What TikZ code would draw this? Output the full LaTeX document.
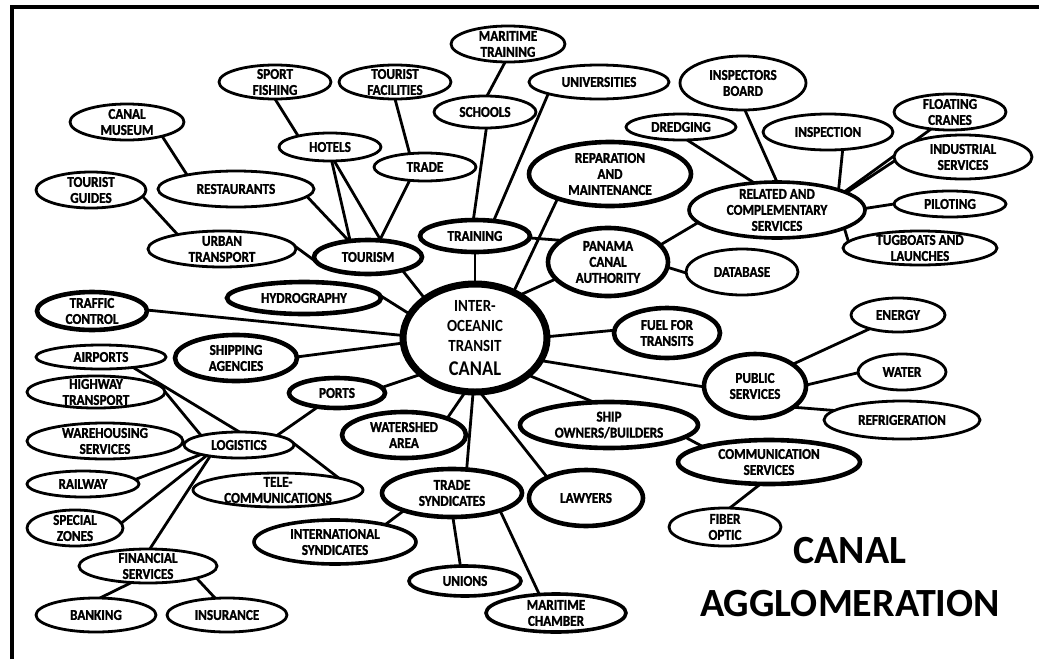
\documentclass[tikz,border=0pt]{standalone}
\usepackage{fontspec}
\newfontfamily\nf{Carlito}[FakeStretch=0.88, BoldFeatures={FakeBold=1.4}]
\newfontfamily\cf{Carlito}[FakeStretch=0.88]
\newfontfamily\tf{Carlito}
\usetikzlibrary{shapes.geometric,backgrounds}
\tikzset{
 ebase/.style={ellipse, draw, fill=white, inner sep=0pt, outer sep=0pt, line width=2.8pt},
 elight/.style={ebase},
 emid/.style={ebase, line width=3.6pt},
 eheavy/.style={ebase, line width=4.6pt},
 ecore/.style={ebase, line width=7pt},
 lbl/.style={align=center, font={\nf\bfseries\fontsize{15}{16}\selectfont}, inner sep=0pt},
 corelbl/.style={align=center, font={\cf\bfseries\fontsize{17}{20}\selectfont}, inner sep=0pt},
 titlelbl/.style={align=center, font={\tf\bfseries\fontsize{40}{53}\selectfont}, inner sep=0pt},
 link/.style={line width=2.8pt},
 frame/.style={line width=4pt},
}
\newcommand\bub[7]{%
 \node[#6, minimum width=#4pt, minimum height=#5pt] (#1) at (#2,#3) {};
 \node[lbl] (#1-t) at (#1.center) {#7};}
\begin{document}
\begin{tikzpicture}[x=1pt,y=-1pt]
\useasboundingbox (0,0) rectangle (1039,659);
\draw[frame] (11.5,659) -- (11.5,6.5) -- (1039,6.5);

\bub{sf}{275}{82}{112}{34}{elight}{SPORT\\FISHING}
\bub{cm}{127}{122}{114}{36}{elight}{CANAL\\MUSEUM}
\bub{ho}{330}{147}{102}{28}{elight}{HOTELS}
\bub{tg}{91}{190}{110}{36}{elight}{TOURIST\\GUIDES}
\bub{re}{236}{189}{156}{36}{elight}{RESTAURANTS}
\bub{ut}{222}{249}{148}{36}{elight}{URBAN\\TRANSPORT}
\bub{to}{368}{257}{108}{34}{eheavy}{TOURISM}
\bub{hy}{304}{298}{154}{32}{eheavy}{HYDROGRAPHY}
\bub{tc}{92}{311}{110}{38}{eheavy}{TRAFFIC\\CONTROL}
\bub{mt}{508}{44}{114}{36}{elight}{MARITIME\\TRAINING}
\bub{tf}{395}{82}{112}{34}{elight}{TOURIST\\FACILITIES}
\bub{un}{599}{82}{140}{34}{elight}{UNIVERSITIES}
\bub{sc}{485}{112}{102}{32}{elight}{SCHOOLS}
\bub{tr}{425}{167}{102}{28}{elight}{TRADE}
\bub{rm}{610}{174}{162}{64}{eheavy}{REPARATION\\AND\\MAINTENANCE}
\bub{dr}{681}{127}{110}{26}{elight}{DREDGING}
\bub{tn}{475}{236}{110}{32}{eheavy}{TRAINING}
\bub{pca}{608}{262}{120}{68}{eheavy}{PANAMA\\CANAL\\AUTHORITY}
\node[ecore, minimum width=144pt, minimum height=108pt] (ca) at (475,338) {};
\node[corelbl] (ca-t) at (ca.center) {INTER-\\OCEANIC\\TRANSIT\\[4pt]{\fontsize{21}{24}\selectfont CANAL}};
\bub{fu}{667}{333}{106}{50}{eheavy}{FUEL FOR\\TRANSITS}
\bub{ib}{743}{83}{126}{54}{elight}{INSPECTORS\\BOARD}
\bub{fc}{950}{112}{112}{36}{elight}{FLOATING\\CRANES}
\bub{in}{828}{132}{130}{36}{elight}{INSPECTION}
\bub{is}{963}{157}{138}{44}{elight}{INDUSTRIAL\\SERVICES}
\bub{rc}{777}{210}{176}{56}{emid}{RELATED AND\\COMPLEMENTARY\\SERVICES}
\bub{pi}{950}{204}{112}{26}{elight}{PILOTING}
\bub{tu}{920}{248}{154}{34}{elight}{TUGBOATS AND\\LAUNCHES}
\bub{db}{742}{272}{112}{46}{elight}{DATABASE}
\bub{en}{898}{315}{94}{34}{elight}{ENERGY}
\bub{ps}{755}{386}{102}{64}{eheavy}{PUBLIC\\SERVICES}
\bub{wa}{902}{372}{88}{36}{elight}{WATER}
\bub{rf}{902}{420}{156}{38}{elight}{REFRIGERATION}
\bub{cs}{769}{462}{182}{44}{eheavy}{COMMUNICATION\\SERVICES}
\bub{fo}{725}{527}{112}{38}{elight}{FIBER\\OPTIC}
\bub{ap}{101}{357}{130}{24}{elight}{AIRPORTS}
\bub{sa}{236}{358}{122}{46}{eheavy}{SHIPPING\\AGENCIES}
\bub{hw}{96}{392}{138}{32}{elight}{HIGHWAY\\TRANSPORT}
\bub{po}{337}{393}{96}{30}{eheavy}{PORTS}
\bub{wh}{105}{441}{156}{36}{elight}{WAREHOUSING\\SERVICES}
\bub{lo}{239}{445}{110}{26}{elight}{LOGISTICS}
\bub{rw}{83}{484}{112}{26}{elight}{RAILWAY}
\bub{te}{278}{490}{170}{34}{elight}{TELE-\\COMMUNICATIONS}
\bub{sz}{75}{528}{96}{36}{elight}{SPECIAL\\ZONES}
\bub{isy}{335}{542}{162}{44}{emid}{INTERNATIONAL\\SYNDICATES}
\bub{fs}{148}{566}{138}{34}{elight}{FINANCIAL\\SERVICES}
\bub{bk}{96}{615}{120}{34}{elight}{BANKING}
\bub{ins}{227}{615}{120}{34}{elight}{INSURANCE}
\bub{ws}{404}{435}{124}{46}{eheavy}{WATERSHED\\AREA}
\bub{so}{609}{425}{178}{46}{eheavy}{SHIP\\OWNERS/BUILDERS}
\bub{ts}{452}{493}{140}{48}{eheavy}{TRADE\\SYNDICATES}
\bub{la}{586}{498}{114}{56}{eheavy}{LAWYERS}
\bub{uo}{465}{581}{112}{30}{emid}{UNIONS}
\bub{mc}{556}{613}{140}{38}{emid}{MARITIME\\CHAMBER}

\node[titlelbl] (title) at (850,577) {CANAL\\AGGLOMERATION};

\begin{pgfonlayer}{background}
\draw[link] (sf.270) -- (ho.161);
\draw[link] (ho.277) -- (to.138);
\draw[link] (ho.287) -- (to.52);
\draw[link] (re.354) -- (to.140);
\draw[link] (cm.338) -- (re.164);
\draw[link] (tg.353) -- (ut.162);
\draw[link] (ut.2) -- (to.190);
\draw[link] (to.339) -- (ca.142);
\draw[link] (hy.2) -- (ca.160);
\draw[link] (tc.1) -- (ca.178);
\draw[link] (sa.1) -- (ca.184);
\draw[link] (ca.214) -- (po.7);
\draw[link] (ca.260) -- (ws.21);
\draw[link] (ca.268) -- (ts.58);
\draw[link] (ca.275) -- (la.152);
\draw[link] (ca.325) -- (so.123);
\draw[link] (ca.341) -- (ps.181);
\draw[link] (ca.1) -- (fu.177);
\draw[link] (ca.44) -- (pca.198);
\draw[link] (ca.50) -- (rm.205);
\draw[link] (ca.90) -- (tn.270);
\draw[link] (tn.358) -- (pca.155);
\draw[link] (tn.96) -- (sc.275);
\draw[link] (tn.39) -- (un.193);
\draw[link] (sc.83) -- (mt.261);
\draw[link] (tf.270) -- (tr.139);
\draw[link] (tr.221) -- (to.55);
\draw[link] (pca.18) -- (rc.189);
\draw[link] (pca.355) -- (db.181);
\draw[link] (dr.295) -- (rc.130);
\draw[link] (ib.274) -- (rc.90);
\draw[link] (in.310) -- (rc.18);
\draw[link] (rc.15) -- (fc.222);
\draw[link] (rc.14) -- (is.150);
\draw[link] (rc.1) -- (pi.180);
\draw[link] (rc.345) -- (tu.175);
\draw[link] (ps.30) -- (en.206);
\draw[link] (ps.1) -- (wa.181);
\draw[link] (ps.331) -- (rf.172);
\draw[link] (so.351) -- (cs.167);
\draw[link] (cs.249) -- (fo.76);
\draw[link] (ts.272) -- (uo.107);
\draw[link] (ts.340) -- (mc.132);
\draw[link] (ts.200) -- (isy.19);
\draw[link] (po.216) -- (lo.14);
\draw[link] (lo.2) -- (te.11);
\draw[link] (ap.342) -- (lo.88);
\draw[link] (hw.5) -- (lo.166);
\draw[link] (lo.194) -- (rw.5);
\draw[link] (lo.198) -- (sz.6);
\draw[link] (lo.201) -- (fs.84);
\draw[link] (fs.225) -- (bk.77);
\draw[link] (fs.346) -- (ins.125);
\end{pgfonlayer}
\end{tikzpicture}
\end{document}
